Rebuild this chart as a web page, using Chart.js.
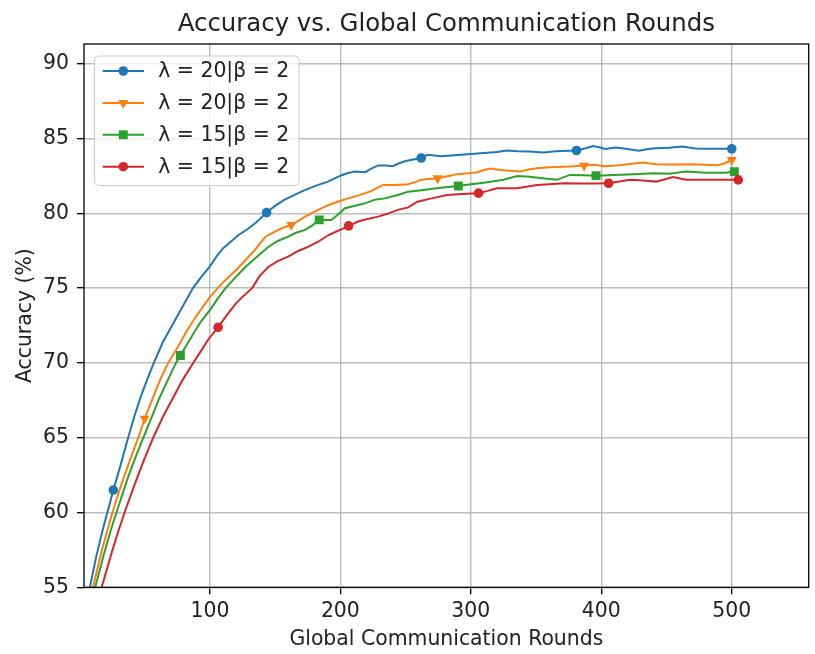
<!DOCTYPE html>
<html>
<head>
<meta charset="utf-8">
<script src="https://cdn.jsdelivr.net/npm/chart.js@4.4.1/dist/chart.umd.min.js"></script>
<style>body{margin:0;background:#fff}</style>
</head>
<body>
<canvas id="myChart" width="815" height="654"></canvas>
<script>
// 圖例文字與刻度
const seriesLabels = ['λ = 20|β = 2', 'λ = 20|β = 2', 'λ = 15|β = 2', 'λ = 15|β = 2'];
const xTicks = [100, 200, 300, 400, 500];
const yTicks = [55, 60, 65, 70, 75, 80, 85, 90];

// 藍線
const roundsA = [3, 8, 13, 18, 26, 31, 37, 42, 47, 52, 57, 64, 71, 79, 87, 93, 100, 105, 110, 116, 122, 129, 135, 143.5, 150, 157, 163, 170, 177, 183, 190, 196, 201, 206, 211, 219, 224, 229, 235, 240, 245, 250, 256, 262, 267, 277, 290, 300, 310, 320, 328, 336, 345, 356, 365, 375, 381, 388, 394, 399, 403, 411, 420, 429, 436, 442, 452, 462, 472, 480, 490, 500];
const accA = [53.6, 55.0, 57.1, 58.9, 61.5, 63.0, 64.9, 66.4, 67.75, 68.9, 70.0, 71.4, 72.5, 73.75, 75.0, 75.7, 76.45, 77.1, 77.65, 78.1, 78.55, 78.95, 79.35, 80.05, 80.5, 80.9, 81.15, 81.45, 81.7, 81.9, 82.1, 82.35, 82.55, 82.7, 82.8, 82.75, 83.0, 83.2, 83.2, 83.15, 83.35, 83.5, 83.6, 83.7, 83.92, 83.82, 83.9, 83.97, 84.03, 84.1, 84.2, 84.15, 84.13, 84.06, 84.15, 84.18, 84.2, 84.35, 84.5, 84.4, 84.3, 84.4, 84.3, 84.18, 84.3, 84.35, 84.38, 84.47, 84.33, 84.32, 84.32, 84.31];
const marksA = [26, 143.5, 262, 381, 500];

// 橘線
const roundsB = [5, 10.6, 17, 22, 27, 33, 40, 46, 50, 56, 62, 68, 75, 82, 89, 95, 100, 106, 112, 120, 127, 135, 142.6, 147.7, 155, 162.4, 173, 181, 191, 198.5, 206, 214, 224, 228, 233, 242, 252, 258, 262, 274.6, 283, 290, 298, 305, 310, 315, 322, 330, 338, 345, 351, 360, 376, 386.8, 395, 402, 412, 422, 432, 442, 455, 470, 480, 489, 495, 500];
const accB = [53.6, 55.1, 57.4, 59.0, 60.5, 62.1, 63.8, 65.2, 66.28, 67.6, 68.9, 70.0, 71.0, 72.1, 73.05, 73.8, 74.4, 75.0, 75.55, 76.2, 76.85, 77.6, 78.44, 78.67, 79.0, 79.22, 79.78, 80.15, 80.56, 80.79, 81.0, 81.2, 81.5, 81.7, 81.9, 81.9, 81.95, 82.1, 82.24, 82.35, 82.5, 82.62, 82.68, 82.75, 82.9, 82.99, 82.9, 82.85, 82.8, 82.95, 83.02, 83.08, 83.13, 83.19, 83.25, 83.15, 83.2, 83.29, 83.39, 83.28, 83.27, 83.28, 83.25, 83.22, 83.35, 83.57];
const marksB = [50, 162.4, 274.6, 386.8, 500];

// 綠線
const roundsC = [6, 12.4, 19, 25, 31, 37, 43, 49, 55, 61, 67.7, 74, 77.4, 86.7, 93, 100, 106, 112, 120, 127.4, 136, 145, 152, 160, 166, 173, 178, 183.8, 193, 198, 203.6, 213.7, 220, 226, 234, 244, 252, 262, 275, 290.4, 300, 310, 325, 335.6, 345, 355, 366, 376, 386, 396, 410, 425, 440, 452, 465, 480, 495.5, 502];
const accC = [53.4, 55.1, 57.3, 59.1, 60.7, 62.3, 63.7, 65.0, 66.3, 67.6, 68.85, 70.0, 70.5, 71.86, 72.75, 73.53, 74.3, 75.0, 75.75, 76.43, 77.1, 77.77, 78.15, 78.44, 78.7, 78.89, 79.16, 79.56, 79.56, 79.9, 80.34, 80.56, 80.7, 80.9, 81.0, 81.23, 81.45, 81.55, 81.7, 81.83, 81.95, 82.05, 82.24, 82.5, 82.45, 82.35, 82.24, 82.57, 82.55, 82.52, 82.57, 82.62, 82.68, 82.65, 82.79, 82.72, 82.72, 82.79];
const marksC = [77.4, 183.8, 290.4, 396, 502];

// 紅線
const roundsD = [12, 17.4, 25, 30, 35, 42, 49, 56.8, 64, 72, 79, 87, 92, 99, 106.3, 113, 120, 126, 132.4, 138, 145, 152, 160, 168, 175.6, 183, 191, 200, 206.3, 213.7, 220, 229, 237, 244, 252, 259, 270, 282, 293, 305.9, 313, 320, 335.5, 350.8, 360, 371, 385, 395, 405.6, 415, 422, 432, 442, 455, 465, 480, 495, 505];
const accD = [53.2, 55.1, 57.4, 58.8, 60.1, 61.8, 63.4, 65.05, 66.4, 67.7, 68.85, 69.96, 70.64, 71.6, 72.38, 73.2, 73.98, 74.5, 75.0, 75.8, 76.43, 76.8, 77.1, 77.5, 77.77, 78.1, 78.55, 78.9, 79.16, 79.45, 79.6, 79.78, 80.0, 80.23, 80.4, 80.78, 81.0, 81.23, 81.3, 81.35, 81.5, 81.68, 81.68, 81.9, 81.95, 82.01, 82.0, 82.0, 82.01, 82.15, 82.24, 82.2, 82.12, 82.42, 82.24, 82.24, 82.25, 82.24];
const marksD = [106.3, 206.3, 305.9, 405.6, 505];

const colors = ['#1f77b4', '#ff7f0e', '#2ca02c', '#d62728'];
const markers = [
    { pointStyle: 'circle', rotation: 0, radius: 4.8 },
    { pointStyle: 'triangle', rotation: 180, radius: 5.8 },
    { pointStyle: 'rect', rotation: 0, radius: 6.3 },
    { pointStyle: 'circle', rotation: 0, radius: 4.8 }
];

function makeSet(i, rounds, acc, marks) {
    return {
        label: seriesLabels[i],
        data: rounds.map((r, k) => ({ x: r, y: acc[k] })),
        borderColor: colors[i],
        backgroundColor: colors[i],
        borderWidth: 2,
        tension: 0,
        pointStyle: markers[i].pointStyle,
        pointRotation: markers[i].rotation,
        pointBorderWidth: 0,
        pointRadius: function (ctx) {
            return ctx.raw && marks.indexOf(ctx.raw.x) >= 0 ? markers[i].radius : 0;
        },
        pointHoverRadius: 0,
        order: 3 - i
    };
}

const FONT = "'DejaVu Sans', sans-serif";

const decor = {
    id: 'decor',
    afterDatasetsDraw(chart) {
        const ctx = chart.ctx;
        const a = chart.chartArea;
        ctx.save();
        ctx.strokeStyle = '#000';
        ctx.lineWidth = 1.3;
        ctx.strokeRect(a.left, a.top, a.right - a.left, a.bottom - a.top);

        // 圖例
        const bx = 94.5, by = 56, bw = 204.5, bh = 129.5;
        ctx.beginPath();
        ctx.roundRect(bx, by, bw, bh, 4);
        ctx.fillStyle = 'rgba(255,255,255,0.8)';
        ctx.fill();
        ctx.strokeStyle = '#cccccc';
        ctx.lineWidth = 1;
        ctx.stroke();

        ctx.font = '20.4px ' + FONT;
        ctx.textBaseline = 'middle';
        ctx.textAlign = 'left';
        for (let i = 0; i < 4; i++) {
            const y = 71 + i * 31.9;
            ctx.strokeStyle = colors[i];
            ctx.fillStyle = colors[i];
            ctx.lineWidth = 2;
            ctx.beginPath();
            ctx.moveTo(102.7, y);
            ctx.lineTo(144, y);
            ctx.stroke();
            Chart.helpers.drawPoint(ctx, {
                pointStyle: markers[i].pointStyle,
                rotation: markers[i].rotation,
                radius: markers[i].radius,
                borderWidth: 0
            }, 123.3, y);
            ctx.fillStyle = '#222';
            ctx.fillText(seriesLabels[i], 158.3, y + 1);
        }
        ctx.restore();
    },
    afterDraw(chart) {
        const ctx = chart.ctx;
        const a = chart.chartArea;
        ctx.save();
        ctx.fillStyle = '#222';
        ctx.textAlign = 'center';
        ctx.textBaseline = 'alphabetic';
        ctx.font = '24.4px ' + FONT;
        ctx.fillText('Accuracy vs. Global Communication Rounds', (a.left + a.right) / 2, 30.7);
        ctx.font = '20.4px ' + FONT;
        ctx.fillText('Global Communication Rounds', (a.left + a.right) / 2, 645);
        ctx.translate(30.5, (a.top + a.bottom) / 2);
        ctx.rotate(-Math.PI / 2);
        ctx.fillText('Accuracy (%)', 0, 0);
        ctx.restore();
    }
};

new Chart(document.getElementById('myChart').getContext('2d'), {
    type: 'line',
    data: {
        datasets: [
            makeSet(0, roundsA, accA, marksA),
            makeSet(1, roundsB, accB, marksB),
            makeSet(2, roundsC, accC, marksC),
            makeSet(3, roundsD, accD, marksD)
        ]
    },
    options: {
        responsive: false,
        animation: false,
        devicePixelRatio: 1,
        layout: { padding: { top: 44, right: 1.7, left: 0, bottom: 0 } },
        plugins: { legend: { display: false }, title: { display: false }, tooltip: { enabled: false } },
        scales: {
            x: {
                type: 'linear',
                min: 3.5,
                max: 559,
                afterBuildTicks: s => { s.ticks = xTicks.map(v => ({ value: v })); },
                afterFit: s => { s.height = 66.7; },
                border: { display: false },
                grid: { color: 'rgba(176,176,176,0.85)', lineWidth: 1.4, tickColor: '#000', tickWidth: 1.3, tickLength: 7 },
                ticks: { autoSkip: false, maxRotation: 0, padding: 5, color: '#222', font: { size: 20.4, family: FONT } }
            },
            y: {
                min: 55,
                max: 91.32,
                afterBuildTicks: s => { s.ticks = yTicks.map(v => ({ value: v })); },
                afterFit: s => { s.width = 84; },
                border: { display: false },
                grid: { color: 'rgba(176,176,176,0.85)', lineWidth: 1.4, tickColor: '#000', tickWidth: 1.3, tickLength: 7 },
                ticks: { padding: 8, color: '#222', font: { size: 20.4, family: FONT } }
            }
        }
    },
    plugins: [decor]
});
</script>
</body>
</html>
